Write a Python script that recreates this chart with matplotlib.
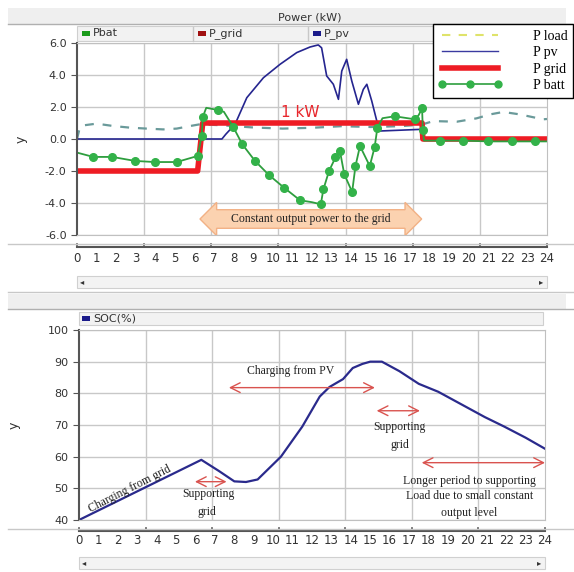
import numpy as np
import matplotlib
matplotlib.use("Agg")
import matplotlib.pyplot as plt
from matplotlib.patches import Rectangle, Polygon
from matplotlib.lines import Line2D

# ---------------------------------------------------------------
# data (hours / kW / %)
hours = list(range(25))

pv_h = [0, 7.4, 7.6, 8.07, 8.67, 9.52, 10.37, 11.22, 11.9, 12.32, 12.49, 12.75,
        13.09, 13.35, 13.52, 13.77, 14.03, 14.37, 14.62, 14.8, 15.05, 15.31,
        15.47, 16.5, 17.5, 17.62, 17.7, 24]
pv_v = [0, 0, 0.3, 0.92, 2.58, 3.83, 4.67, 5.4, 5.75, 5.88, 5.7, 3.94,
        3.42, 2.48, 4.25, 4.98, 3.63, 2.17, 3.1, 3.42, 2.38, 1.12,
        0.5, 0.55, 0.6, 0.5, 0, 0]

grid_h = [0, 6.16, 6.42, 17.62, 17.66, 24]
grid_v = [-2, -2, 1, 1, 0, 0]

load_h = [0, 0.15, 0.32, 1.0, 1.86, 2.7, 3.56, 4.4, 5.09, 5.77, 6.28, 7.5, 9,
          10.5, 12, 13.5, 15, 16.5, 17.6, 18.2, 19.39, 20.4, 21.1, 21.77,
          22.6, 23.8, 24]
load_v = [0, 0.75, 0.85, 0.96, 0.81, 0.71, 0.65, 0.6, 0.65, 0.81, 0.92, 0.85,
          0.72, 0.65, 0.7, 0.8, 0.75, 0.8, 0.9, 1.12, 1.08, 1.29, 1.54, 1.69,
          1.54, 1.23, 1.25]

bat_h = [0, 0.83, 1.8, 2.96, 3.98, 5.09, 6.16, 6.37, 6.42, 6.6, 7.2, 7.5,
         7.97, 8.44, 9.09, 9.8, 10.57, 11.39, 12.0, 12.45, 12.58, 12.87,
         13.2, 13.43, 13.65, 14.05, 14.22, 14.45, 14.95, 15.2, 15.34, 15.6,
         16.22, 17.26, 17.45, 17.62, 17.66, 17.72, 18.54, 19.7, 21.0, 22.2,
         23.4, 24]
bat_v = [-0.85, -1.12, -1.12, -1.37, -1.44, -1.44, -1.06, 0.19, 1.37, 1.95,
         1.81, 1.7, 0.77, -0.33, -1.37, -2.25, -3.04, -3.83, -3.95, -4.08,
         -3.15, -2.0, -1.15, -0.78, -2.21, -3.31, -1.69, -0.44, -1.69, -0.5,
         0.71, 1.3, 1.42, 1.23, 1.5, 1.92, 0.56, -0.1, -0.1, -0.1, -0.15,
         -0.15, -0.15, -0.15]

soc_h = [0, 6.3, 7.2, 8.0, 8.6, 9.2, 10.4, 11.5, 12.4, 12.9, 13.6, 14.1,
         14.6, 15.0, 15.6, 16.5, 17.5, 18.5, 19.7, 20.9, 21.9, 23, 24]
soc_v = [40, 59, 55.5, 52.2, 52, 52.8, 60, 69.5, 79, 82, 84.5, 88, 89.3, 90,
         90, 87, 83, 80.5, 76.5, 72.5, 69.5, 66, 62.5]

# ---------------------------------------------------------------
W, H = 574, 572
fx = lambda x: x / W
fy = lambda y: 1 - y / H

fig = plt.figure(figsize=(W / 100, H / 100), dpi=100)
fig.patch.set_facecolor("white")

serif = "Liberation Serif"
gcol = "#c8c8c8"


def panel_frame(y_top, y_bar, title):
    # barre de titre grise
    fig.add_artist(Rectangle((fx(8), fy(y_bar)), fx(566) - fx(8), fy(y_top) - fy(y_bar),
                             transform=fig.transFigure, fc="#efefef", ec="none"))
    fig.add_artist(Line2D([fx(8), fx(574)], [fy(y_bar), fy(y_bar)],
                          transform=fig.transFigure, color="#b0b0b0", lw=1))
    if title:
        fig.text(fx(310), fy((y_top + y_bar) / 2 + 1), title, ha="center", va="center",
                 fontsize=8, color="#333333")


def scrollbar(y, x0, x1):
    fig.add_artist(Rectangle((fx(x0), fy(y + 6)), fx(x1) - fx(x0), fy(y - 6) - fy(y + 6),
                             transform=fig.transFigure, fc="#f3f3f3", ec="#d0d0d0", lw=0.8))
    fig.text(fx(x0 + 5), fy(y), "\u25c2", ha="center", va="center", fontsize=6, color="#333")
    fig.text(fx(x1 - 6), fy(y), "\u25b8", ha="center", va="center", fontsize=6, color="#333")


def style_axes(ax, ylabel_x):
    for s in ["top", "right", "bottom"]:
        ax.spines[s].set_color("#c0c0c0")
    ax.spines["left"].set_color("#555555")
    ax.spines["left"].set_linewidth(1.5)
    ax.set_xlim(0, 24)
    ax.set_xticks(hours)
    ax.set_xticklabels([str(h) for h in hours])
    ax.set_xticks(np.linspace(0, 24, 8), minor=True)
    ax.grid(which="minor", axis="x", color=gcol, lw=1)
    ax.grid(which="major", axis="y", color=gcol, lw=1)
    ax.tick_params(axis="x", which="both", length=0, labelsize=8.5, labelcolor="#333333")
    ax.tick_params(axis="y", length=4, color="#555555", labelsize=8, labelcolor="#333333")
    ax.set_axisbelow(True)
    ax.set_ylabel("y", fontsize=9, color="#333333")
    ax.yaxis.set_label_coords(ylabel_x, 0.5)


def x_axis_line(ax, y_axes):
    tr = ax.get_xaxis_transform()
    ax.plot([0, 24], [y_axes, y_axes], transform=tr, color="#555555", lw=1.5, clip_on=False)
    for t in np.linspace(0, 24, 8):
        ax.plot([t, t], [y_axes, y_axes + 0.02], transform=tr, color="#555555", lw=1.2,
                clip_on=False)


# ---------------------------------------------------------------
# haut : puissances
panel_frame(8, 24, "Power (kW)")
fig.add_artist(Rectangle((fx(77), fy(41)), fx(547) - fx(77), fy(26) - fy(41),
                         transform=fig.transFigure, fc="#f2f2f2", ec="#cfcfcf", lw=0.8))
for xs in [193, 308]:
    fig.add_artist(Line2D([fx(xs), fx(xs)], [fy(41), fy(27)], transform=fig.transFigure,
                          color="#c8c8c8", lw=1))
for xs, col, lab in [(82, "#1a9a1a", "Pbat"), (198, "#a01010", "P_grid"), (313, "#1a1a8a", "P_pv")]:
    fig.add_artist(Rectangle((fx(xs), fy(35.5)), fx(8), fy(31) - fy(35.5),
                             transform=fig.transFigure, fc=col, ec="none"))
    fig.text(fx(xs + 11), fy(33.5), lab, ha="left", va="center", fontsize=8, color="#333333")
fig.add_artist(Line2D([fx(8), fx(574)], [fy(244), fy(244)], transform=fig.transFigure,
                      color="#c8c8c8", lw=1))

ax1 = fig.add_axes([fx(77), fy(235), fx(547) - fx(77), fy(43) - fy(235)])
style_axes(ax1, -0.105)
ax1.set_ylim(-6, 6)
ax1.set_yticks(np.arange(-6, 7, 2))
ax1.set_yticklabels([f"{v:.1f}" for v in np.arange(-6, 7, 2)])
ax1.tick_params(axis="x", pad=12.5)
x_axis_line(ax1, -0.065)

ax1.plot(load_h, load_v, color="#6a9a9a", lw=1.6, ls=(0, (4, 4)))
ax1.plot(pv_h, pv_v, color="#25258f", lw=1.2)
ax1.plot(grid_h, grid_v, color="#ee1c24", lw=4)
bat_mark_idx = [1, 2, 3, 4, 5, 6, 7, 8, 10, 12, 13, 14, 15, 16, 17, 19, 20, 21, 22,
                23, 24, 25, 26, 27, 28, 29, 30, 32, 33, 35, 36, 38, 39, 40, 41, 42]
ax1.plot(bat_h, bat_v, color="#2e9e3e", lw=1.3, marker="o", ms=5.5,
         mfc="#33b249", mec="#33b249", markevery=bat_mark_idx)

ax1.text(11.4, 1.65, "1 kW", color="#e8262c", fontsize=11, ha="center", va="center")

# flèche double orange
x0, x1, yc = 6.28, 17.6, -5.0
hl, bh, hh = 0.85, 0.58, 1.04
verts = [(x0, yc), (x0 + hl, yc + hh), (x0 + hl, yc + bh), (x1 - hl, yc + bh),
         (x1 - hl, yc + hh), (x1, yc), (x1 - hl, yc - hh), (x1 - hl, yc - bh),
         (x0 + hl, yc - bh), (x0 + hl, yc - hh)]
ax1.add_patch(Polygon(verts, closed=True, fc="#fbd2b0", ec="#f2b185", lw=1, zorder=5))
ax1.text((x0 + x1) / 2, yc, "Constant output power to the grid", family=serif,
         fontsize=8.5, ha="center", va="center", color="#222222", zorder=6)

handles = [Line2D([], [], color="#dfe36a", lw=1.5, ls=(0, (4, 4))),
           Line2D([], [], color="#3a3aa0", lw=1),
           Line2D([], [], color="#ee1c24", lw=4),
           Line2D([], [], color="#2e9e3e", lw=1.2, marker="o", ms=5, mfc="#33b249",
                  mec="#33b249")]
leg = fig.legend(handles, ["P load", "P pv", "P grid", "P batt"], loc="upper right",
                 bbox_to_anchor=(fx(573), fy(24)), prop={"family": serif, "size": 10},
                 frameon=True, fancybox=False, edgecolor="black", framealpha=1,
                 handlelength=4.6, handletextpad=2.2, labelspacing=0.25, numpoints=3,
                 borderpad=0.4, borderaxespad=0)
leg.get_frame().set_linewidth(1)
scrollbar(282, 77, 547)

# ---------------------------------------------------------------
# bas : SOC
fig.add_artist(Line2D([fx(8), fx(574)], [fy(292), fy(292)], transform=fig.transFigure,
                      color="#c8c8c8", lw=1))
panel_frame(294, 309, None)
fig.add_artist(Rectangle((fx(79), fy(325)), fx(543) - fx(79), fy(312) - fy(325),
                         transform=fig.transFigure, fc="#f2f2f2", ec="#cfcfcf", lw=0.8))
fig.add_artist(Rectangle((fx(82), fy(320.5)), fx(8), fy(316) - fy(320.5),
                         transform=fig.transFigure, fc="#1a1a8a", ec="none"))
fig.text(fx(93), fy(318.5), "SOC(%)", ha="left", va="center", fontsize=8, color="#333333")
fig.add_artist(Line2D([fx(8), fx(574)], [fy(529), fy(529)], transform=fig.transFigure,
                      color="#c8c8c8", lw=1))

ax2 = fig.add_axes([fx(79), fy(520), fx(545) - fx(79), fy(330) - fy(520)])
style_axes(ax2, -0.125)
ax2.set_ylim(40, 100)
ax2.set_yticks(np.arange(40, 101, 10))
ax2.tick_params(axis="x", pad=10)
x_axis_line(ax2, -0.06)

ax2.plot(soc_h, soc_v, color="#2a2a8c", lw=1.6)

red = "#d9534f"
arr = dict(arrowstyle="<->,head_length=0.7,head_width=0.35", color=red, lw=1,
           shrinkA=0, shrinkB=0)
ax2.annotate("", xy=(7.6, 52.1), xytext=(5.97, 52.1), arrowprops=arr)
ax2.annotate("", xy=(15.24, 81.8), xytext=(7.72, 81.8), arrowprops=arr)
ax2.annotate("", xy=(17.56, 74.5), xytext=(15.33, 74.5), arrowprops=arr)
ax2.annotate("", xy=(24, 58.1), xytext=(17.65, 58.1), arrowprops=arr, annotation_clip=False)

tkw = dict(family=serif, fontsize=8.5, color="#222222", ha="center", va="center")
ax2.text(2.6, 49.8, "Charging from grid", rotation=27, **tkw)
ax2.text(6.65, 48.1, "Supporting", **tkw)
ax2.text(6.6, 42.4, "grid", **tkw)
ax2.text(10.9, 87, "Charging from PV", **tkw)
ax2.text(16.5, 69.4, "Supporting", **tkw)
ax2.text(16.55, 63.7, "grid", **tkw)
ax2.text(20.1, 52.3, "Longer period to supporting", **tkw)
ax2.text(20.1, 47.6, "Load due to small constant", **tkw)
ax2.text(20.1, 42.2, "output level", **tkw)

scrollbar(563, 79, 545)

fig.savefig("out.png", dpi=100)
